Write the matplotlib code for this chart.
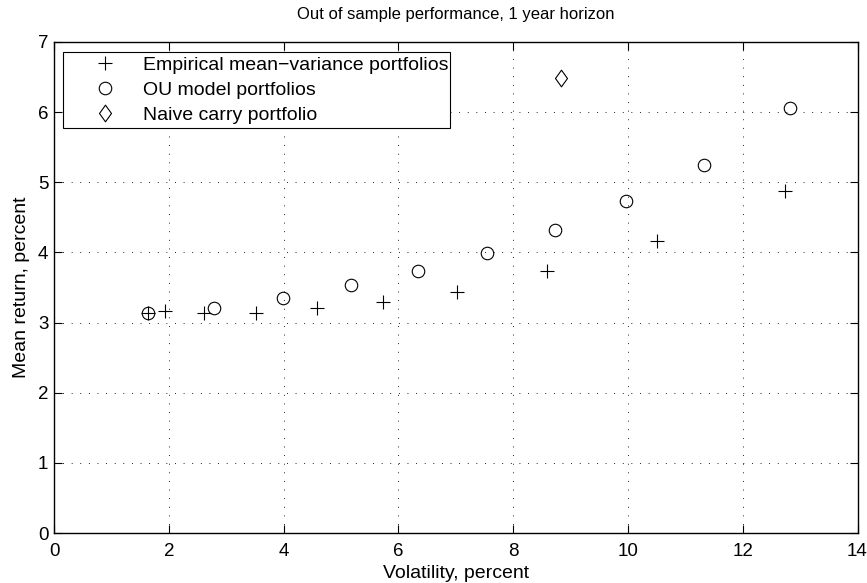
import matplotlib
matplotlib.use('Agg')
import matplotlib.pyplot as plt
from matplotlib.path import Path

plt.rcParams['font.family'] = ['Liberation Sans', 'DejaVu Sans']
plt.rcParams['lines.scale_dashes'] = False

# values (volatility %, mean return %)
emp_vol = [1.63, 1.94, 2.61, 3.52, 4.59, 5.73, 7.03, 8.59, 10.51, 12.74]
emp_ret = [3.13, 3.16, 3.13, 3.13, 3.21, 3.29, 3.44, 3.74, 4.17, 4.87]

ou_vol = [1.63, 2.78, 3.99, 5.17, 6.35, 7.54, 8.73, 9.97, 11.32, 12.83]
ou_ret = [3.13, 3.21, 3.35, 3.53, 3.74, 3.99, 4.32, 4.73, 5.24, 6.06]

carry_vol = [8.84]
carry_ret = [6.49]

labels = ['Empirical mean\u2212variance portfolios', 'OU model portfolios', 'Naive carry portfolio']

fig = plt.figure(figsize=(8.67, 5.83), dpi=100)
ax = fig.add_axes([54 / 867, 1 - 533 / 583, 803.5 / 867, 491 / 583])

# matlab style diamond, a bit narrower than tall
diamond = Path([(0, 1), (0.72, 0), (0, -1), (-0.72, 0), (0, 1)],
               [Path.MOVETO, Path.LINETO, Path.LINETO, Path.LINETO, Path.CLOSEPOLY])

ax.plot(emp_vol, emp_ret, linestyle='none', marker='+', ms=9.5, mew=0.8, color='k', label=labels[0])
ax.plot(ou_vol, ou_ret, linestyle='none', marker='o', ms=9, mew=0.8, mfc='none', mec='k', label=labels[1])
ax.plot(carry_vol, carry_ret, linestyle='none', marker=diamond, ms=12, mew=0.8, mfc='none', mec='k', label=labels[2])

ax.set_xlim(0, 14)
ax.set_ylim(0, 7)
ax.set_xticks(range(0, 15, 2))
ax.set_yticks(range(0, 8))
ax.grid(True, color='k', linestyle=(0, (0.6, 5.6)), linewidth=0.7)
ax.set_axisbelow(True)
ax.tick_params(direction='in', length=5.5, width=0.8, top=True, right=True, labelsize=13.5)
ax.tick_params(axis='x', pad=7.5)
ax.tick_params(axis='y', pad=4)
for sp in ax.spines.values():
    sp.set_linewidth(1.0)

ax.set_title('Out of sample performance, 1 year horizon', fontsize=12, pad=16.5)
ax.set_xlabel('Volatility, percent', fontsize=14, labelpad=3.5)
ax.set_ylabel('Mean return, percent', fontsize=14, labelpad=5.5)

leg = ax.legend(loc='upper left', bbox_to_anchor=(0.0116, 0.98, 0.481, 0), mode='expand',
                borderaxespad=0, fancybox=False, edgecolor='k', framealpha=1, fontsize=14,
                handlelength=3.88, handletextpad=0.0, borderpad=0.22, labelspacing=0.39, numpoints=1)
leg.get_frame().set_linewidth(0.8)

fig.savefig('out.png', dpi=100)
